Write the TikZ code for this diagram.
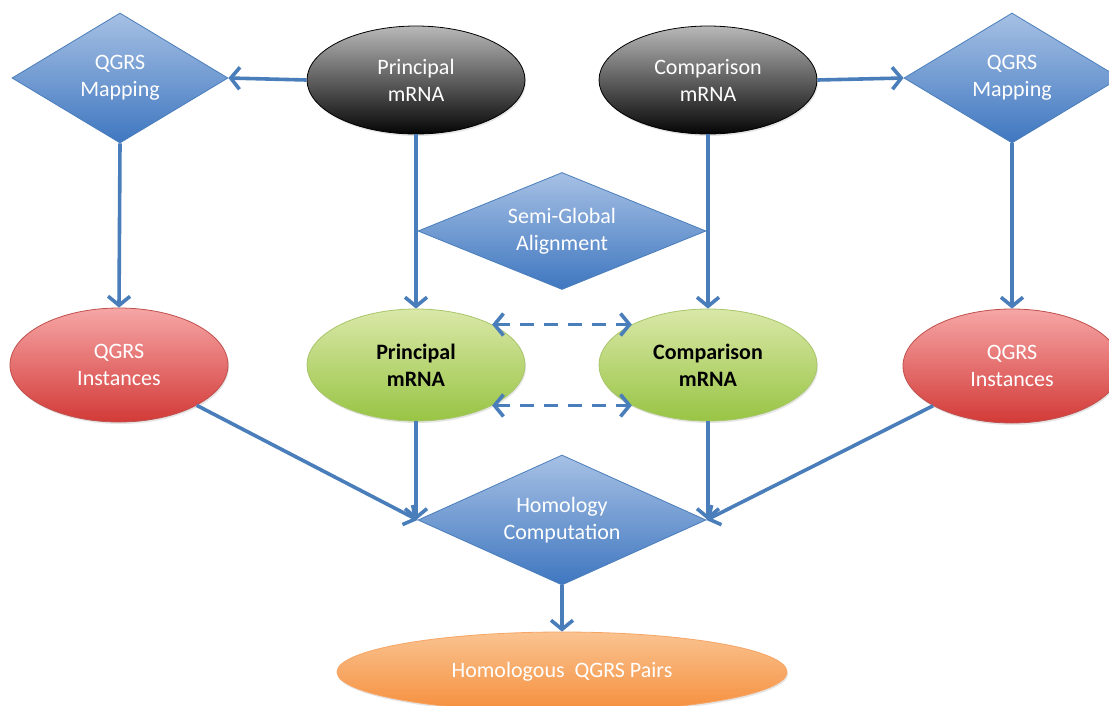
\documentclass[tikz,border=0pt]{standalone}
\usepackage{fontspec}
\setmainfont{Carlito}
\usetikzlibrary{shapes.geometric,arrows.meta,shadows}
\definecolor{arrblue}{HTML}{4A7EBB}
\definecolor{diatop}{HTML}{A6C0E4}
\definecolor{diabot}{HTML}{3F77C0}
\definecolor{diaborder}{HTML}{4A7EBB}
\definecolor{blktop}{HTML}{B8B8B8}
\definecolor{blkbot}{HTML}{050505}
\definecolor{grntop}{HTML}{DAE8A8}
\definecolor{grnbot}{HTML}{98C444}
\definecolor{grnborder}{HTML}{A8C66A}
\definecolor{redtop}{HTML}{F6A6A6}
\definecolor{redbot}{HTML}{D23A37}
\definecolor{redborder}{HTML}{C0504D}
\definecolor{orgtop}{HTML}{FAC390}
\definecolor{orgbot}{HTML}{F58E3C}
\definecolor{orgborder}{HTML}{F7A564}
\begin{document}
\begin{tikzpicture}[x=1pt,y=-1pt,
  base/.style={font=\fontsize{22}{27}\selectfont, align=center, text=white, inner sep=0pt},
  dia/.style={base, diamond, aspect=1.66, draw=diaborder, line width=0.8pt, top color=diatop, bottom color=diabot, minimum width=216pt, minimum height=130pt},
  ell/.style={base, ellipse, line width=0.8pt, minimum width=218pt, minimum height=108pt,
    drop shadow={opacity=0.2, shadow xshift=1pt, shadow yshift=-2pt}},
  blk/.style={ell, draw=black, top color=blktop, bottom color=blkbot},
  grn/.style={ell, draw=grnborder, top color=grntop, bottom color=grnbot, text=black, font=\fontsize{22}{27}\selectfont\bfseries, minimum height=112pt},
  rd/.style={ell, draw=redborder, top color=redtop, bottom color=redbot, minimum height=114pt},
  org/.style={ell, draw=orgborder, top color=orgtop, bottom color=orgbot, minimum width=450pt, minimum height=80pt},
  arr/.style={draw=arrblue, line width=3.6pt, -{Straight Barb[length=9pt,width=22pt]}},
  darr/.style={draw=arrblue, line width=3.6pt, dash pattern=on 14pt off 10pt, {Straight Barb[length=9pt,width=22pt]}-{Straight Barb[length=9pt,width=22pt]}}
]
\useasboundingbox (0,0) rectangle (1109,705);
\fill[white] (0,0) rectangle (1109,705);

% connectors behind the middle diamond
\node[blk] (pb) at (416,80) {Principal\\mRNA};
\node[blk] (cb) at (708,80) {Comparison\\mRNA};
\node[grn] (pg) at (416,365) {Principal\\mRNA};
\node[grn] (cg) at (708,365) {Comparison\\mRNA};
\draw[arr] (pb.south) -- (pg.north);
\draw[arr] (cb.south) -- (cg.north);

\node[dia] (qm1) at (120,78) {QGRS\\Mapping};
\node[dia] (qm2) at (1012,78) {QGRS\\Mapping};
\node[dia, aspect=2.5, minimum width=288pt, minimum height=117pt] (sga) at (562,231) {Semi-Global\\Alignment};
\node[dia, aspect=2.2, minimum width=288pt, minimum height=130pt] (hc) at (562,520) {Homology\\Computation};

\node[rd] (rl) at (119,365) {QGRS\\Instances};
\node[rd] (rr) at (1012,366) {QGRS\\Instances};
\node[org] (hp) at (562,672) {Homologous\ \ QGRS Pairs};

\draw[arr] (pb.west) -- (qm1.east);
\draw[arr] (cb.east) -- (qm2.west);
\draw[arr] (qm1.south) -- (rl.north);
\draw[arr] (qm2.south) -- (rr.north);

\draw[darr] (pg.28) -- (cg.152);
\draw[darr] (pg.-28) -- (cg.-152);

\draw[arr] (rl) -- (hc.west);
\draw[arr] (rr) -- (hc.east);
\draw[arr] (pg.south) -- (pg.south |- hc.west);
\draw[arr] (cg.south) -- (cg.south |- hc.east);
\draw[arr] (hc.south) -- (hp.north);
\end{tikzpicture}
\end{document}
